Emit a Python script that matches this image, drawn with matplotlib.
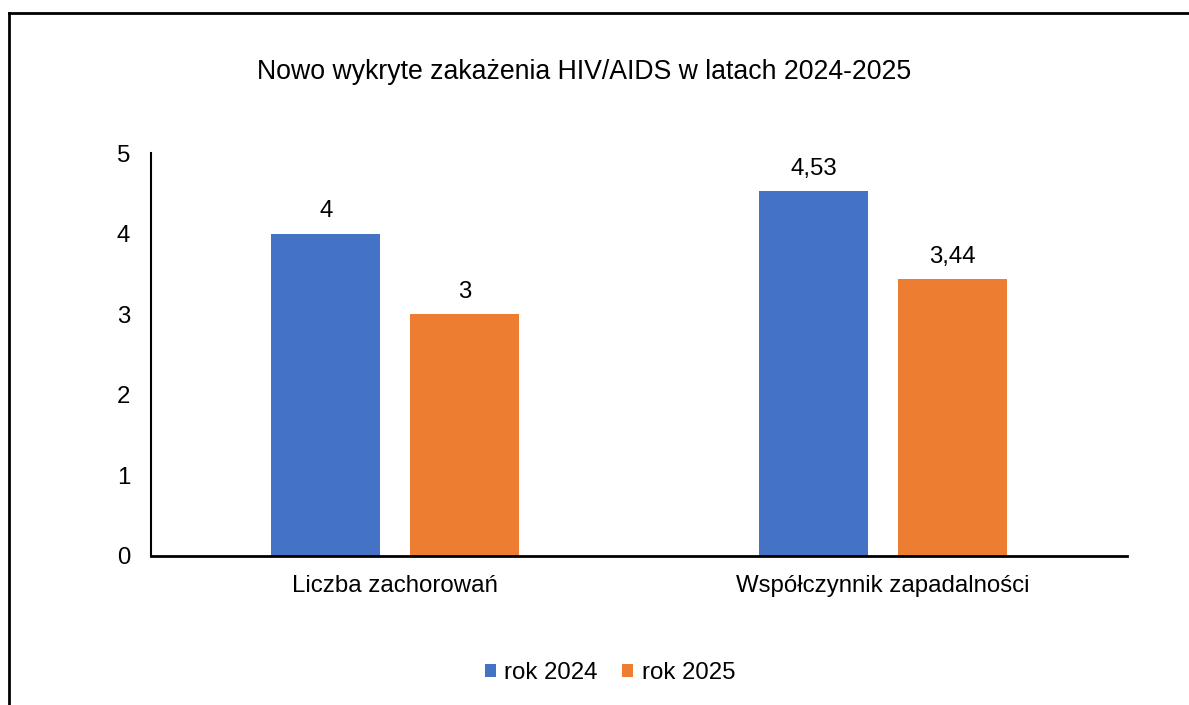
import matplotlib
matplotlib.use("Agg")

import numpy as np
import matplotlib.pyplot as plt
from matplotlib.lines import Line2D

categories = ["Liczba zachorowań", "Współczynnik zapadalności"]
series_names = ["rok 2024", "rok 2025"]
values_2024 = [4, 4.53]
values_2025 = [3, 3.44]
labels_2024 = ["4", "4,53"]
labels_2025 = ["3", "3,44"]
COLORS = ["#4472C4", "#ED7D31"]
FS = 17.3

plt.rcParams["font.family"] = ["Liberation Sans", "DejaVu Sans"]

fig = plt.figure(figsize=(11.89, 7.05), dpi=100)
ax = fig.add_axes([151 / 1189, 149 / 705, 976 / 1189, 403 / 705])

x = np.arange(len(categories))
width = 0.223
offset = 0.142

for vals, labs, name, color, sign in [
    (values_2024, labels_2024, series_names[0], COLORS[0], -1),
    (values_2025, labels_2025, series_names[1], COLORS[1], 1),
]:
    bars = ax.bar(x + sign * offset, vals, width, color=color, label=name)
    ax.bar_label(bars, labels=labs, padding=8, fontsize=FS)

ax.set_xlim(-0.5, 1.5)
ax.set_ylim(0, 5)
ax.set_yticks(range(0, 6))
ax.set_xticks(x)
ax.set_xticklabels(categories)
ax.tick_params(axis="both", length=0, labelsize=FS)
ax.tick_params(axis="y", pad=15)
ax.tick_params(axis="x", pad=14)
for side in ["top", "right"]:
    ax.spines[side].set_visible(False)
ax.spines["left"].set_linewidth(1.5)
ax.spines["bottom"].set_linewidth(2)

fig.text(584 / 1189, (705 - 72) / 705, "Nowo wykryte zakażenia HIV/AIDS w latach 2024-2025",
         ha="center", va="center", fontsize=19.2)

ax.legend(loc="center", bbox_to_anchor=(610 / 1189, (705 - 673) / 705),
          bbox_transform=fig.transFigure, ncol=2, frameon=False, fontsize=FS,
          handlelength=0.47, handleheight=0.47, handletextpad=0.35, columnspacing=1.0)

# outer frame (only left and top edges visible)
fig.add_artist(Line2D([9 / 1189, 9 / 1189], [0, (705 - 13) / 705],
                      transform=fig.transFigure, color="black", lw=2))
fig.add_artist(Line2D([9 / 1189, 1], [(705 - 13) / 705, (705 - 13) / 705],
                      transform=fig.transFigure, color="black", lw=2))

fig.savefig("out.png", dpi=100)
plt.close(fig)
